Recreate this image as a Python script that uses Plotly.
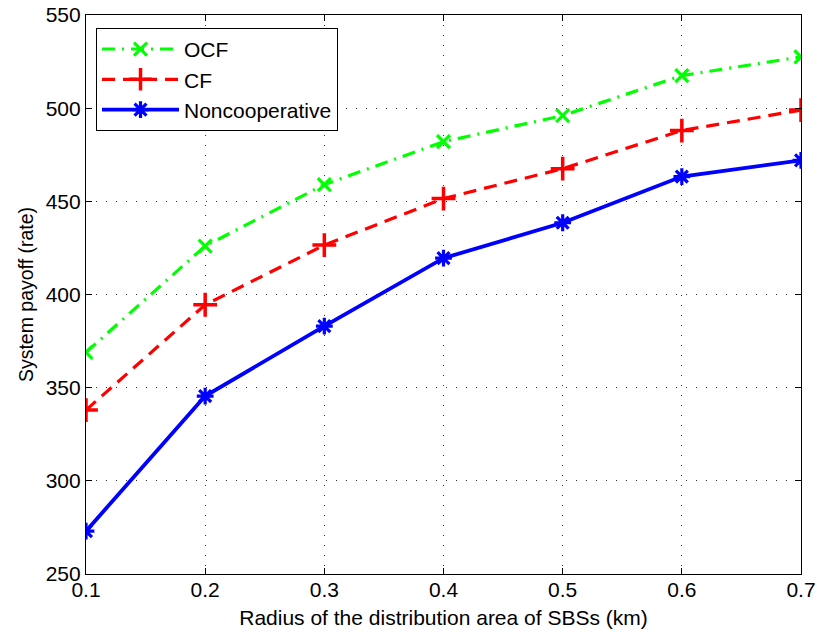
import plotly.graph_objects as go

radius = [0.1, 0.2, 0.3, 0.4, 0.5, 0.6, 0.7]
ocf = [369, 426, 459, 482, 496, 517.5, 527.5]
cf = [338, 394.5, 426.5, 451.5, 467.5, 488, 499]
noncoop = [273, 345.5, 383, 419.5, 438.5, 463.3, 472]
x_ticks = [0.1, 0.2, 0.3, 0.4, 0.5, 0.6, 0.7]
y_ticks = [250, 300, 350, 400, 450, 500, 550]

font = "Liberation Sans, Arial, Helvetica, sans-serif"

fig = go.Figure()
fig.add_trace(go.Scatter(
    x=radius, y=ocf, name="OCF", mode="lines+markers",
    line=dict(color="#00ff00", width=3.2, dash="13px,7px,2px,7px"),
    marker=dict(symbol="x-thin", size=13, line=dict(color="#00ff00", width=3.2)),
))
fig.add_trace(go.Scatter(
    x=radius, y=cf, name="CF", mode="lines+markers",
    line=dict(color="#ff0000", width=3.2, dash="13px,8px"),
    marker=dict(symbol="cross-thin", size=17, line=dict(color="#ff0000", width=3.5)),
))
fig.add_trace(go.Scatter(
    x=radius, y=noncoop, name="Noncooperative", mode="lines+markers",
    line=dict(color="#0000ff", width=3.8),
    marker=dict(symbol="asterisk", size=14, line=dict(color="#0000ff", width=3.2)),
))

axis_common = dict(
    showline=True, linecolor="black", linewidth=1.2, mirror="ticks",
    ticks="inside", ticklen=6, tickcolor="black",
    showgrid=True, gridcolor="#333333", griddash="1px,9px", gridwidth=1,
    zeroline=False, tickfont=dict(family=font, size=21, color="black"),
    automargin=False, ticklabeloverflow="allow",
)

fig.update_layout(
    width=817, height=632,
    margin=dict(l=86, r=16, t=15, b=58, autoexpand=False),
    paper_bgcolor="white", plot_bgcolor="white",
    font=dict(family=font, color="black"),
    xaxis=dict(range=[0.1, 0.7], tickvals=x_ticks, ticktext=[str(v) for v in x_ticks],
               ticklabelstandoff=-3,
               title=dict(text="Radius of the distribution area of SBSs (km)",
                          font=dict(family=font, size=21), standoff=10),
               **axis_common),
    yaxis=dict(range=[250, 550], tickvals=y_ticks,
               title=dict(text="System payoff (rate)", font=dict(family=font, size=19.5), standoff=6),
               **axis_common),
    legend=dict(x=0.014, y=0.977, xanchor="left", yanchor="top",
                bgcolor="white", bordercolor="black", borderwidth=1,
                font=dict(family=font, size=21, color="black"),
                itemwidth=77),
    showlegend=True,
)

fig.write_html("out.html", config={"displayModeBar": False},
               post_script="document.body.style.margin='0';")
